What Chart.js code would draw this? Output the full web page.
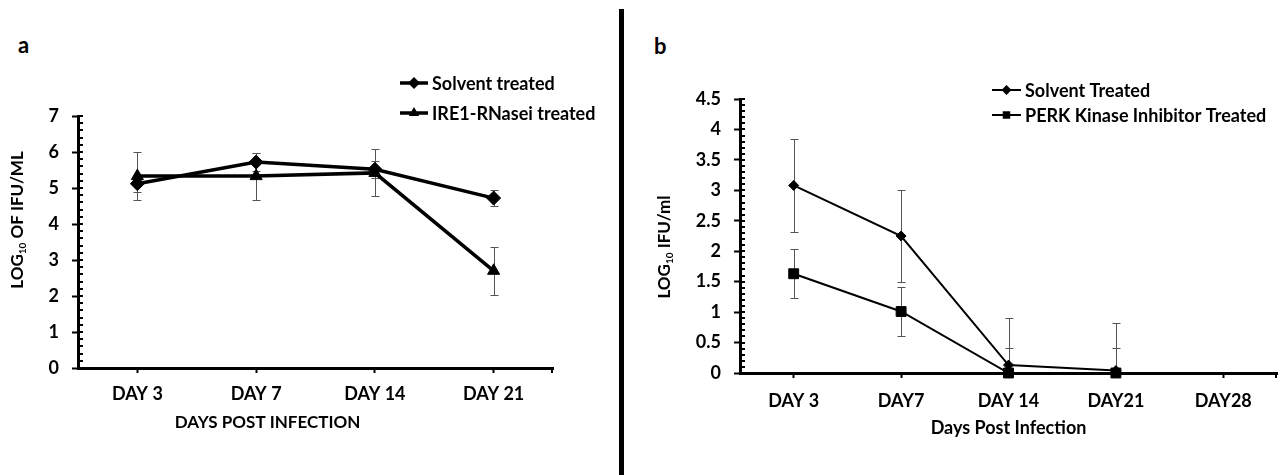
<!DOCTYPE html>
<html>
<head>
<meta charset="utf-8">
<script src="https://cdn.jsdelivr.net/npm/chart.js"></script>
<style>
  body { margin: 0; background: #fff; width: 1285px; height: 475px; position: relative; overflow: hidden; font-family: Lato, sans-serif; }
  .panel { position: absolute; top: 0; height: 475px; }
  .tag { position: absolute; font-weight: bold; font-size: 22px; line-height: 1.2; }
  #divider { position: absolute; left: 619px; top: 9px; width: 5px; height: 466px; background: #000; }
</style>
</head>
<body>
<div class="tag" style="left:18px; top:32px">a</div>
<div class="tag" style="left:654px; top:33px">b</div>
<div id="divider"></div>
<div class="panel" style="left:0; width:615px"><canvas id="chartA" width="615" height="475"></canvas></div>
<div class="panel" style="left:630px; width:655px"><canvas id="chartB" width="655" height="475"></canvas></div>
<script>
// panel a
const daysA = ['DAY 3', 'DAY 7', 'DAY 14', 'DAY 21'];
const solventA = [5.12, 5.72, 5.52, 4.72];
const solventAErr = [0.22, 0.25, 0.24, 0.22];
const ire1A = [5.33, 5.33, 5.42, 2.7];
const ire1AErr = [0.67, 0.65, 0.65, 0.66];

// panel b
const daysB = ['DAY 3', 'DAY7', 'DAY 14', 'DAY21', 'DAY28'];
const solventB = [3.08, 2.25, 0.13, 0.04, null];
const solventBErr = [0.76, 0.76, 0.78, 0.78, null];
const perkB = [1.63, 1.01, 0, 0, null];
const perkBErr = [0.4, 0.4, 0.41, 0.41, null];

const FONT = "Lato, 'Open Sans', sans-serif";
Chart.defaults.font.family = FONT;
Chart.defaults.color = '#000';

function marker(ctx, style, x, y, r) {
  ctx.beginPath();
  if (style === 'rectRot') {
    ctx.moveTo(x, y - r); ctx.lineTo(x + r, y); ctx.lineTo(x, y + r); ctx.lineTo(x - r, y);
  } else if (style === 'triangle') {
    ctx.moveTo(x, y - r); ctx.lineTo(x + r * 0.87, y + r * 0.5); ctx.lineTo(x - r * 0.87, y + r * 0.5);
  } else {
    const h = r * 0.75;
    ctx.rect(x - h, y - h, 2 * h, 2 * h);
  }
  ctx.closePath();
  ctx.fill();
}

const errorBars = {
  id: 'errorBars',
  beforeDatasetsDraw(chart, args, opts) {
    const { ctx, chartArea: ca, scales: { y } } = chart;
    ctx.save();
    ctx.strokeStyle = opts.color;
    ctx.lineWidth = opts.width;
    chart.data.datasets.forEach((ds, i) => {
      const meta = chart.getDatasetMeta(i);
      ds.errors.forEach((e, j) => {
        const v = ds.data[j];
        if (v == null || e == null) return;
        const x = Math.round(meta.data[j].x) + 0.5;
        const top = Math.round(y.getPixelForValue(v + e)) + 0.5;
        let bot = Math.round(y.getPixelForValue(v - e)) + 0.5;
        const clipped = bot > ca.bottom;
        if (clipped) bot = ca.bottom;
        ctx.beginPath();
        ctx.moveTo(x, top); ctx.lineTo(x, bot);
        ctx.moveTo(x - opts.cap, top); ctx.lineTo(x + opts.cap, top);
        if (!clipped) { ctx.moveTo(x - opts.cap, bot); ctx.lineTo(x + opts.cap, bot); }
        ctx.stroke();
      });
    });
    ctx.restore();
  }
};

const minorTicks = {
  id: 'minorTicks',
  afterDraw(chart, args, opts) {
    const { ctx, chartArea: ca, scales: { y } } = chart;
    ctx.save();
    ctx.strokeStyle = '#000';
    ctx.lineWidth = 2;
    const n = Math.round((y.max - y.min) / opts.step);
    ctx.beginPath();
    for (let k = 0; k <= n; k++) {
      const py = Math.round(y.getPixelForValue(y.min + k * opts.step));
      ctx.moveTo(ca.left, py); ctx.lineTo(ca.left + opts.len, py);
    }
    ctx.stroke();
    ctx.beginPath();
    ctx.moveTo(ca.right - 1, ca.bottom); ctx.lineTo(ca.right - 1, ca.bottom + 5);
    ctx.stroke();
    ctx.restore();
  }
};

// axis titles; the y title carries a subscript so it is drawn piece by piece
function axisTitles(xText, xSize, xdx, xdy, yParts, ydx, ydy) {
  return {
    id: 'axisTitles',
    afterDraw(chart) {
      const { ctx, chartArea: ca } = chart;
      ctx.save();
      ctx.fillStyle = '#000';
      ctx.textBaseline = 'middle';
      ctx.textAlign = 'center';
      ctx.font = 'bold ' + xSize + 'px ' + FONT;
      ctx.fillText(xText, (ca.left + ca.right) / 2 + xdx, ca.bottom + xdy);
      ctx.restore();

      const cx = ca.left + ydx;
      const cy = (ca.top + ca.bottom) / 2 + ydy;
      const widths = yParts.map(([text, size]) => {
        ctx.font = 'bold ' + size + 'px ' + FONT;
        return ctx.measureText(text).width;
      });
      let along = -widths.reduce((a, b) => a + b, 0) / 2;
      yParts.forEach(([text, size, shift], i) => {
        ctx.save();
        ctx.fillStyle = '#000';
        ctx.font = 'bold ' + size + 'px ' + FONT;
        ctx.textAlign = 'left';
        ctx.textBaseline = 'middle';
        ctx.translate(cx + shift, cy - along);
        ctx.rotate(-Math.PI / 2);
        ctx.fillText(text, 0, 0);
        ctx.restore();
        along += widths[i];
      });
    }
  };
}

const legendBox = {
  id: 'legendBox',
  afterDraw(chart, args, opts) {
    const ctx = chart.ctx;
    ctx.save();
    chart.data.datasets.forEach((ds, i) => {
      const y = opts.y + i * opts.gap;
      ctx.strokeStyle = '#000';
      ctx.fillStyle = '#000';
      ctx.lineWidth = ds.borderWidth;
      ctx.beginPath();
      ctx.moveTo(opts.x, y); ctx.lineTo(opts.x + opts.len, y);
      ctx.stroke();
      marker(ctx, ds.pointStyle, opts.x + opts.len / 2, y, opts.r);
      ctx.font = 'bold ' + opts.size + 'px ' + FONT;
      ctx.textAlign = 'left';
      ctx.textBaseline = 'middle';
      ctx.fillText(ds.label, opts.x + opts.len + 4, y + 1);
    });
    ctx.restore();
  }
};

function scales(labels, ymax, ystep, yWidth, xHeight, labelPad) {
  return {
    x: {
      type: 'category',
      labels: labels,
      offset: true,
      grid: { drawOnChartArea: false, offset: false, tickLength: 5, tickWidth: 2, tickColor: '#000' },
      border: { display: true, color: '#000', width: 3 },
      ticks: { color: '#000', font: { size: 18, weight: 'bold' }, padding: labelPad, maxRotation: 0, autoSkip: false },
      afterFit: s => { s.height = xHeight; }
    },
    y: {
      min: 0,
      max: ymax,
      grid: { drawOnChartArea: false, tickLength: 6, tickWidth: 2, tickColor: '#000' },
      border: { display: true, color: '#000', width: 3 },
      ticks: { stepSize: ystep, color: '#000', font: { size: 18, weight: 'bold' }, padding: 13,
        callback: v => String(v) },
      afterFit: s => { s.width = yWidth; }
    }
  };
}

new Chart(document.getElementById('chartA'), {
  type: 'line',
  data: {
    labels: daysA,
    datasets: [
      { label: 'Solvent treated', data: solventA, errors: solventAErr, borderColor: '#000', backgroundColor: '#000',
        borderWidth: 3.5, pointStyle: 'rectRot', pointRadius: 7, pointBorderWidth: 1, clip: false },
      { label: 'IRE1-RNasei treated', data: ire1A, errors: ire1AErr, borderColor: '#000', backgroundColor: '#000',
        borderWidth: 3.5, pointStyle: 'triangle', pointRadius: 7, pointBorderWidth: 1, clip: false }
    ]
  },
  options: {
    responsive: false,
    animation: false,
    devicePixelRatio: 1,
    layout: { padding: { top: 116, right: 62, left: 0, bottom: 0 } },
    scales: scales(daysA, 7, 1, 78, 107, 10),
    plugins: {
      legend: { display: false },
      tooltip: { enabled: false },
      errorBars: { color: '#555', width: 1, cap: 4 },
      minorTicks: { step: 0.2, len: 5 },
      legendBox: { x: 400, y: 83, gap: 30, len: 28, r: 6, size: 18 }
    }
  },
  plugins: [errorBars, minorTicks, legendBox,
    axisTitles('DAYS POST INFECTION', 17, -48, 55, [['LOG', 17, 0], ['10', 10, 5], [' OF IFU/ML', 17, 0]], -60, -22)]
});

new Chart(document.getElementById('chartB'), {
  type: 'line',
  data: {
    labels: daysB,
    datasets: [
      { label: 'Solvent Treated', data: solventB, errors: solventBErr, borderColor: '#000', backgroundColor: '#000',
        borderWidth: 2, pointStyle: 'rectRot', pointRadius: 5, pointBorderWidth: 1, clip: false },
      { label: 'PERK Kinase Inhibitor Treated', data: perkB, errors: perkBErr, borderColor: '#000', backgroundColor: '#000',
        borderWidth: 2, pointStyle: 'rect', pointRadius: 7, pointBorderWidth: 1, clip: false }
    ]
  },
  options: {
    responsive: false,
    animation: false,
    devicePixelRatio: 1,
    layout: { padding: { top: 99, right: 1, left: 0, bottom: 0 } },
    scales: scales(daysB, 4.5, 0.5, 110, 102, 12),
    plugins: {
      legend: { display: false },
      tooltip: { enabled: false },
      errorBars: { color: '#555', width: 1, cap: 4 },
      minorTicks: { step: 0.1, len: 5 },
      legendBox: { x: 362, y: 90, gap: 25, len: 29, r: 5, size: 18 }
    }
  },
  plugins: [errorBars, minorTicks, legendBox,
    axisTitles('Days Post Infection', 18, 0, 55, [['LOG', 17, 0], ['10', 10, 5], [' IFU/ml', 17, 0]], -75, 11)]
});
</script>
</body>
</html>
